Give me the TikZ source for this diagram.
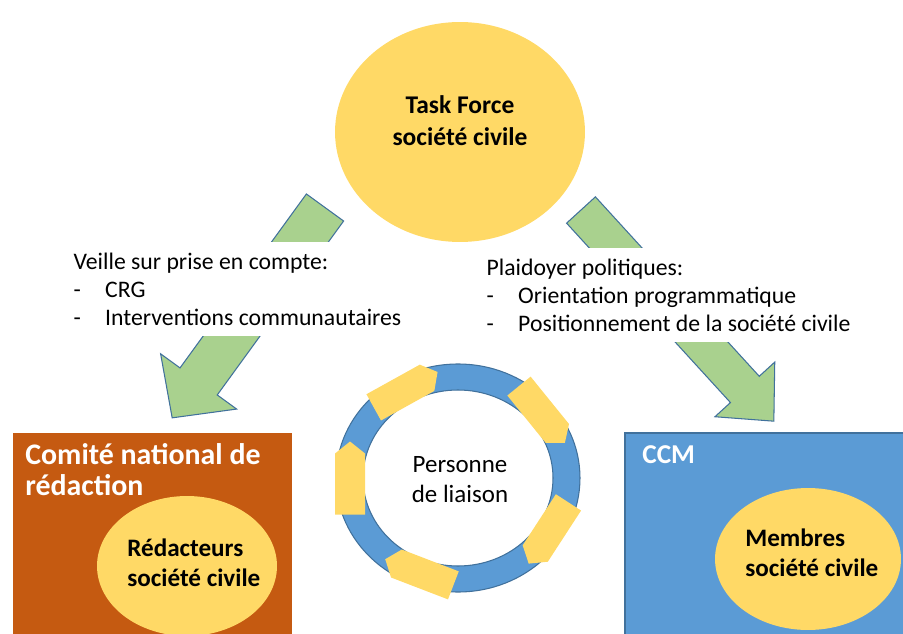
\documentclass[tikz,border=0pt]{standalone}
\usepackage{fontspec}
\setmainfont{Carlito}
\definecolor{TaskYellow}{RGB}{255, 217, 102}
\definecolor{ArrowGreen}{RGB}{169, 209, 142}
\definecolor{EdgeBlue}{RGB}{65, 113, 156}
\definecolor{CnrOrange}{RGB}{197, 90, 17}
\definecolor{CcmBlue}{RGB}{91, 155, 213}
\usetikzlibrary{shapes.geometric}

\begin{document}
\begin{tikzpicture}[x=0.02cm, y=0.02cm,
    bigarrow/.style={fill=ArrowGreen, draw=EdgeBlue, line width=0.6pt},
    blob/.style={ellipse, fill=TaskYellow, inner sep=0pt},
    listtext/.style={font=\fontsize{13.5}{15.9}\selectfont, align=left, fill=white, inner xsep=3pt, inner ysep=6pt, anchor=north west},
    titletext/.style={font=\fontsize{16}{18}\selectfont\bfseries, text=white, align=left, inner sep=0pt, anchor=north west},
    blobtext/.style={font=\fontsize{14.3}{16.8}\selectfont\bfseries, align=left, inner sep=0pt}]
    \useasboundingbox (0,0) rectangle (903,633);

    % Green arrows out of the task force
    \coordinate (tailL) at (325,425.5);
    \coordinate (tailR) at (581,423);
    \begin{scope}[shift={(tailL)}, rotate=234]
        \draw[bigarrow] (0,-23) -- (215,-23) -- (215,-47) -- (260,0) -- (215,47) -- (215,23) -- (0,23) -- cycle;
    \end{scope}
    \begin{scope}[shift={(tailR)}, rotate=-47.6]
        \draw[bigarrow] (0,-19.5) -- (243,-19.5) -- (243,-40.5) -- (286,0) -- (243,40.5) -- (243,19.5) -- (0,19.5) -- cycle;
    \end{scope}

    % Task force
    \node[blob, minimum width=5cm, minimum height=4.4cm] (task) at (460,501) {};
    \node[blobtext, align=center, font=\fontsize{14.5}{18.1}\selectfont\bfseries] (tasktitle) at (460,512) {Task Force\\société civile};

    % Texts over the arrows
    \node[listtext] (veille) at (68,391) {Veille sur prise en compte:\\\makebox[18pt][l]{-}CRG\\\makebox[18pt][l]{-}Interventions communautaires};
    \node[listtext] (plaidoyer) at (481,385) {Plaidoyer politiques:\\\makebox[18pt][l]{-}Orientation programmatique\\\makebox[18pt][l]{-}Positionnement de la société civile};

    % Comite national de redaction
    \fill[CnrOrange] (13,-5) rectangle (292,200);
    \node[titletext, font=\fontsize{17}{18}\selectfont\bfseries] (cnr) at (25,190) {Comité national de\\rédaction};
    \node[blob, minimum width=3.6cm, minimum height=2.8cm] (redac) at (187,67) {};
    \node[blobtext, anchor=west] (redactitle) at (127,70) {Rédacteurs\\société civile};

    % CCM
    \filldraw[fill=CcmBlue, draw=EdgeBlue, line width=0.6pt] (625,-5) rectangle (910,200);
    \node[titletext, font=\fontsize{15.5}{18}\selectfont\bfseries] (ccm) at (642,188) {CCM};
    \node[blob, minimum width=3.72cm, minimum height=2.84cm] (membres) at (808,74) {};
    \node[blobtext, anchor=west] (membrestitle) at (745,80) {Membres\\société civile};

    % Ring with the liaison person
    \filldraw[fill=CcmBlue, draw=EdgeBlue, line width=0.6pt, even odd rule] (458,155) ellipse [x radius=122, y radius=114] (458,155) ellipse [x radius=95, y radius=88];
    \foreach \a in {180,119,39,-33,-111} {
        \begin{scope}[shift={({458+108*cos(\a)},{155+101*sin(\a)})}, rotate=\a-90]
            \fill[TaskYellow] (-36.5,-15) -- (24.5,-15) -- (36.5,0) -- (24.5,15) -- (-36.5,15) -- cycle;
        \end{scope}
    }
    \node[font=\fontsize{14.2}{17}\selectfont, align=center, inner sep=0pt] (liaison) at (460,153) {Personne\\de liaison};
\end{tikzpicture}
\end{document}
